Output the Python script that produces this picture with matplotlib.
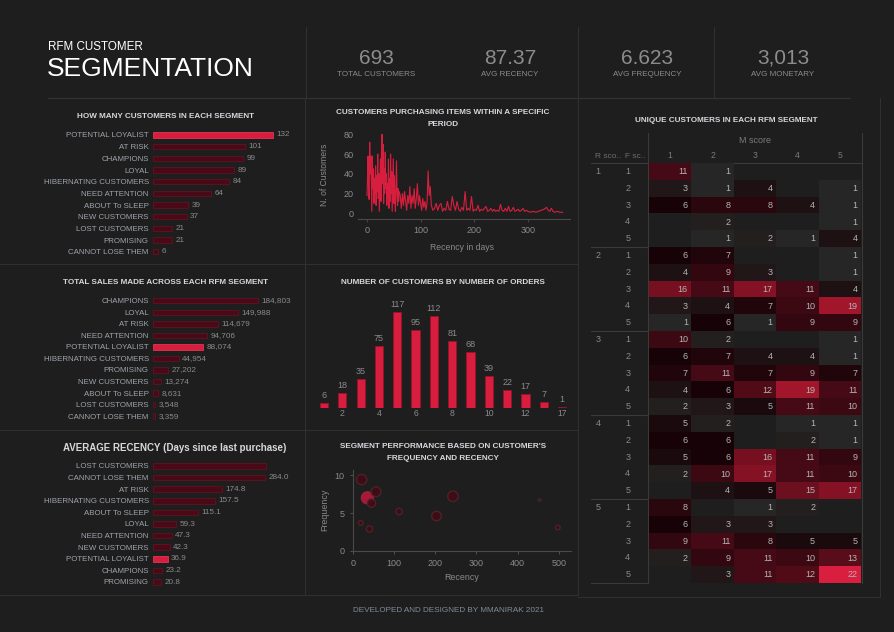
import matplotlib
matplotlib.use('Agg')
import matplotlib.pyplot as plt
import numpy as np
from matplotlib.colors import LinearSegmentedColormap, Normalize

plt.rcParams['font.family'] = ['Liberation Sans', 'DejaVu Sans']

# ---------------- DATA ----------------
kpi_values = ['693', '87.37', '6.623', '3,013']
kpi_labels = ['TOTAL CUSTOMERS', 'AVG RECENCY', 'AVG FREQUENCY', 'AVG MONETARY']

count_segments = ['POTENTIAL LOYALIST', 'AT RISK', 'CHAMPIONS', 'LOYAL', 'HIBERNATING CUSTOMERS',
                  'NEED ATTENTION', 'ABOUT To SLEEP', 'NEW CUSTOMERS', 'LOST CUSTOMERS',
                  'PROMISING', 'CANNOT LOSE THEM']
count_values = [132, 101, 99, 89, 84, 64, 39, 37, 21, 21, 6]

sales_segments = ['CHAMPIONS', 'LOYAL', 'AT RISK', 'NEED ATTENTION', 'POTENTIAL LOYALIST',
                  'HIBERNATING CUSTOMERS', 'PROMISING', 'NEW CUSTOMERS', 'ABOUT To SLEEP',
                  'LOST CUSTOMERS', 'CANNOT LOSE THEM']
sales_values = [184803, 149988, 114679, 94706, 88074, 44954, 27202, 13274, 8631, 3548, 3359]

recency_segments = ['LOST CUSTOMERS', 'CANNOT LOSE THEM', 'AT RISK', 'HIBERNATING CUSTOMERS',
                    'ABOUT To SLEEP', 'LOYAL', 'NEED ATTENTION', 'NEW CUSTOMERS',
                    'POTENTIAL LOYALIST', 'CHAMPIONS', 'PROMISING']
recency_values = [286.5, 284.0, 174.8, 157.5, 115.1, 59.3, 47.3, 42.3, 36.9, 23.2, 20.8]

highlight_segment = 'POTENTIAL LOYALIST'

recency_days = [0, 1, 2, 3, 4, 5, 6, 7, 8, 9, 10, 11, 12, 13, 14, 15, 16, 17, 18, 19, 20,
                21, 22, 23, 24, 25, 26, 27, 28, 29, 30, 31, 32, 33, 34, 35, 36, 37, 38, 39, 40,
                41, 42, 43, 44, 45, 46, 47, 48, 49, 50, 51, 52, 53, 54, 55, 56, 57, 58, 59, 60,
                62, 64, 66, 68, 70, 72, 74, 76, 78, 80, 82, 84, 86, 88, 90, 92, 94, 96, 98, 100,
                102, 104, 106, 108, 110, 112, 114, 116, 118, 120, 123, 126, 129, 132, 135, 138,
                141, 144, 147, 150, 153, 156, 159, 162, 165, 168, 171, 174, 177, 180, 183, 186,
                189, 192, 195, 198, 201, 204, 207, 210, 213, 216, 219, 222, 225, 228, 231, 234,
                237, 240, 243, 246, 249, 252, 255, 258, 261, 264, 267, 270, 273, 276, 279, 282,
                285, 288, 291, 294, 297, 300, 305, 310, 315, 320, 325, 330, 335, 338, 341, 344,
                347, 350, 355, 360, 365]
recency_customers = [18, 35, 58, 20, 14, 72, 40, 58, 30, 2, 58, 25, 45, 10, 35, 20, 48, 8, 38, 22, 60,
                     15, 40, 2, 30, 55, 12, 62, 80, 30, 70, 10, 45, 20, 62, 25, 40, 8, 30, 15, 55,
                     5, 35, 12, 60, 20, 42, 2, 28, 55, 10, 38, 15, 2, 30, 53, 20, 8, 25, 12, 22,
                     18, 5, 20, 8, 22, 12, 3, 18, 10, 27, 5, 18, 10, 25, 5, 15, 30, 8, 18, 10,
                     3, 15, 6, 12, 3, 10, 43, 18, 27, 8, 3, 5, 10, 3, 8, 10,
                     2, 5, 3, 12, 4, 3, 17, 8, 3, 12, 4, 2, 6, 3, 22, 3,
                     5, 3, 17, 2, 4, 3, 8, 2, 4, 3, 5, 7, 2, 3, 5, 2,
                     4, 2, 3, 2, 9, 3, 2, 5, 2, 7, 2, 3, 6, 2, 3, 4,
                     2, 3, 5, 2, 3, 2, 1, 2, 1, 2, 3, 4, 6, 3, 2, 5,
                     2, 1, 2, 1, 1]

order_labels = ['1', '2', '3', '4', '5', '6', '7', '8', '9', '10', '11', '12', '13', '17']
order_customers = [6, 18, 35, 75, 117, 95, 112, 81, 68, 39, 22, 17, 7, 1]
order_tick_labels = ['2', '4', '6', '8', '10', '12', '17']

scatter_segments = ['CHAMPIONS', 'POTENTIAL LOYALIST', 'NEED ATTENTION', 'LOYAL', 'PROMISING',
                    'NEW CUSTOMERS', 'ABOUT To SLEEP', 'HIBERNATING CUSTOMERS', 'AT RISK',
                    'CANNOT LOSE THEM', 'LOST CUSTOMERS']
scatter_recency = [21, 35, 45, 56, 19, 40, 112, 203, 243, 454, 498]
scatter_frequency = [9.4, 7.0, 6.3, 7.8, 3.7, 2.9, 5.2, 4.6, 7.2, 6.7, 3.1]
scatter_count = [99, 132, 64, 89, 21, 37, 39, 84, 101, 6, 21]

r_scores = [1, 2, 3, 4, 5]
f_scores = [1, 2, 3, 4, 5]
m_scores = [1, 2, 3, 4, 5]
N = None
heat_values = [
    [11, 1, N, N, N], [3, 1, 4, N, 1], [6, 8, 8, 4, 1], [N, 2, N, N, 1], [N, 1, 2, 1, 4],
    [6, 7, N, N, 1], [4, 9, 3, N, 1], [16, 11, 17, 11, 4], [3, 4, 7, 10, 19], [1, 6, 1, 9, 9],
    [10, 2, N, N, 1], [6, 7, 4, 4, 1], [7, 11, 7, 9, 7], [4, 6, 12, 19, 11], [2, 3, 5, 11, 10],
    [5, 2, N, 1, 1], [6, 6, N, 2, 1], [5, 6, 16, 11, 9], [2, 10, 17, 11, 10], [N, 4, 5, 15, 17],
    [8, N, 1, 2, N], [6, 3, 3, N, N], [9, 11, 8, 5, 5], [2, 9, 11, 10, 13], [N, 3, 11, 12, 22],
]

# ---------------- STYLE ----------------
W, H = 895, 632
BG = '#1e1e1e'
LINE = '#303030'
TITLE = '#d6d8dc'
LABEL = '#9ea4ab'
VAL = '#8a8a8a'
DARKBAR = '#4a0916'
DARKEDGE = '#5e1422'
RED = '#d81e3e'
REDEDGE = '#e23452'

fig = plt.figure(figsize=(W / 100, H / 100), dpi=100, facecolor=BG)
ov = fig.add_axes([0, 0, 1, 1])
ov.set_xlim(0, W)
ov.set_ylim(H, 0)
ov.axis('off')


def px_axes(x0, y0, x1, y1):
    ax = fig.add_axes([x0 / W, 1 - y1 / H, (x1 - x0) / W, (y1 - y0) / H])
    ax.set_facecolor('none')
    return ax


def hline(y, x0, x1, c=LINE):
    ov.plot([x0, x1], [y, y], color=c, lw=0.8)


def vline(x, y0, y1, c=LINE):
    ov.plot([x, x], [y0, y1], color=c, lw=0.8)


# ---------------- HEADER ----------------
ov.text(48, 47, 'RFM CUSTOMER', color='white', fontsize=8.4, ha='left', va='center')
ov.text(47, 69, 'SEGMENTATION', color='white', fontsize=19, ha='left', va='center')
vline(306, 27, 98)
vline(578, 27, 98)
vline(714, 27, 98)
hline(98, 48, 850, '#333333')
kpi_x = [376, 510, 647, 783]
for x, v, l in zip(kpi_x, kpi_values, kpi_labels):
    ov.text(x, 58, v, color='#8c8c8c', fontsize=15, ha='center', va='center')
    ov.text(x, 75, l, color='#8c8c8c', fontsize=5.8, ha='center', va='center')

# panel borders
hline(264, 0, 578)
hline(430, 0, 578)
hline(595, 0, 578)
vline(305, 98, 595)
vline(578, 98, 595)
vline(880, 98, 597)
hline(597, 578, 880)

# footer
ov.text(449, 611, 'DEVELOPED AND DESIGNED BY MMANIRAK 2021', color='#7f8b98', fontsize=5.9,
        ha='center', va='center')


# ---------------- HORIZONTAL BAR PANELS ----------------
def hbar_panel(labels, values, y_first, spacing, x0, px_per_unit, fmt, hide=()):
    n = len(values)
    top = y_first - spacing / 2
    bottom = y_first + spacing * (n - 0.5)
    x1 = 300
    ax = px_axes(x0, top, x1, bottom)
    ax.set_xlim(0, (x1 - x0) / px_per_unit)
    ax.set_ylim(n - 0.5, -0.5)
    colors = [RED if l == highlight_segment else DARKBAR for l in labels]
    edges = [REDEDGE if l == highlight_segment else DARKEDGE for l in labels]
    ax.barh(range(n), values, height=0.47, color=colors, edgecolor=edges, linewidth=0.6)
    ax.set_yticks(range(n))
    ax.set_yticklabels(labels, fontsize=5.7, color=LABEL)
    ax.tick_params(axis='y', length=0, pad=3)
    ax.set_xticks([])
    for s in ax.spines.values():
        s.set_visible(False)
    for i, v in enumerate(values):
        if i in hide:
            continue
        ax.text(v + 3.5 / px_per_unit, i, fmt(v), fontsize=5.9, color=VAL, va='center', ha='left')
    return ax


ov.text(166, 117, 'HOW MANY CUSTOMERS IN EACH SEGMENT', color=TITLE, fontsize=5.9,
        fontweight='bold', ha='center', va='center')
hbar_panel(count_segments, count_values, 135, 11.67, 153, 120 / 132, lambda v: f'{v:d}')

ov.text(166, 283, 'TOTAL SALES MADE ACROSS EACH RFM SEGMENT', color=TITLE, fontsize=5.9,
        fontweight='bold', ha='center', va='center')
hbar_panel(sales_segments, sales_values, 300.7, 11.55, 153, 105 / 184803, lambda v: f'{v:,d}')

ov.text(63, 448, 'AVERAGE RECENCY (Days since last purchase)', color=TITLE, fontsize=7,
        fontweight='bold', ha='left', va='center')
hbar_panel(recency_segments, recency_values, 466, 11.6, 153, 112 / 284.0, lambda v: f'{v:.1f}',
           hide=(0,))

# ---------------- LINE CHART ----------------
ov.text(443, 113, 'CUSTOMERS PURCHASING ITEMS WITHIN A SPECIFIC', color=TITLE, fontsize=5.9,
        fontweight='bold', ha='center', va='center')
ov.text(443, 124, 'PERIOD', color=TITLE, fontsize=5.9, fontweight='bold', ha='center', va='center')
axl = px_axes(358, 128, 570, 219.3)
axl.plot(recency_days, recency_customers, color=RED, lw=0.8)
axl.set_xlim(-16.8, 378.7)
axl.set_ylim(-6.1, 86.4)
axl.set_xticks([0, 100, 200, 300])
axl.set_yticks([0, 20, 40, 60, 80])
axl.tick_params(colors='#444444', labelcolor=VAL, labelsize=6.5, length=0)
axl.tick_params(axis='x', length=2, pad=3)
axl.tick_params(axis='y', pad=3)
for k, s in axl.spines.items():
    s.set_visible(k == 'bottom')
    s.set_color('#4a4a4a')
ov.text(325, 175, 'N. of Customers', color=VAL, fontsize=6.2, rotation=90, ha='center', va='center')
ov.text(462, 247, 'Recency in days', color=VAL, fontsize=6.2, ha='center', va='center')

# ---------------- ORDERS BAR CHART ----------------
ov.text(443, 282, 'NUMBER OF CUSTOMERS BY NUMBER OF ORDERS', color=TITLE, fontsize=5.9,
        fontweight='bold', ha='center', va='center')
axb = px_axes(311, 297, 575, 408)
xi = np.arange(len(order_customers))
axb.bar(xi, order_customers, width=0.45, color=RED, edgecolor='#9e1229', linewidth=0.6)
axb.set_xlim(-0.71, 13.7)
axb.set_ylim(0, 135)
for i, v in zip(xi, order_customers):
    axb.text(i, v + 3 / 0.82, str(v), ha='center', va='bottom', fontsize=6.5, color=VAL)
tick_idx = [order_labels.index(t) for t in order_tick_labels]
axb.set_xticks(tick_idx)
axb.set_xticklabels(order_tick_labels)
axb.set_yticks([])
axb.tick_params(axis='x', length=0, labelsize=6.2, labelcolor=VAL, pad=1)
for s in axb.spines.values():
    s.set_visible(False)

# ---------------- SCATTER ----------------
ov.text(443, 446, "SEGMENT PERFORMANCE BASED ON CUSTOMER'S", color=TITLE, fontsize=5.9,
        fontweight='bold', ha='center', va='center')
ov.text(443, 458, 'FREQUENCY AND RECENCY', color=TITLE, fontsize=5.9, fontweight='bold',
        ha='center', va='center')
axs = px_axes(353, 470, 571, 551)
sc_colors = ['#b8183a' if s == highlight_segment else '#420a14' for s in scatter_segments]
sc_edges = ['#a0243a' if s == highlight_segment else '#4e242a' for s in scatter_segments]
sizes = [0.52 ** 2 * c * (0.72 * 2) ** 2 for c in scatter_count]
axs.scatter(scatter_recency, scatter_frequency, s=sizes, c=sc_colors, edgecolors=sc_edges,
            linewidths=1.0, alpha=0.9, zorder=3)
axs.set_xlim(0, 530)
axs.set_ylim(0, 10.66)
axs.set_xticks([0, 100, 200, 300, 400, 500])
axs.set_yticks([0, 5, 10])
axs.tick_params(colors='#5a5a5a', labelcolor=VAL, labelsize=6.5, length=2.5, width=0.6)
for k, s in axs.spines.items():
    s.set_visible(k in ('left', 'bottom'))
    s.set_color('#4a4a4a')
ov.text(325, 510, 'Frequency', color=VAL, fontsize=6.4, rotation=90, ha='center', va='center')
ov.text(462, 578, 'Recency', color=VAL, fontsize=6.4, ha='center', va='center')

# ---------------- HEATMAP ----------------
ov.text(726, 121, 'UNIQUE CUSTOMERS IN EACH RFM SEGMENT', color=TITLE, fontsize=5.9,
        fontweight='bold', ha='center', va='center')
cm_vals = [1, 3, 6, 10, 16, 19, 22]
cm_cols = ['#262626', '#211718', '#170307', '#3c0913', '#761020', '#a0162a', '#d91e3f']
cmap = LinearSegmentedColormap.from_list(
    'rfm', [((v - 1) / 21, c) for v, c in zip(cm_vals, cm_cols)])
hm = np.array([[np.nan if v is None else v for v in row] for row in heat_values], dtype=float)
axh = px_axes(649, 163, 861, 583)
axh.pcolormesh(np.arange(6), np.arange(26), np.ma.masked_invalid(hm), cmap=cmap,
               norm=Normalize(1, 22))
axh.set_xlim(0, 5)
axh.set_ylim(25, 0)
axh.axis('off')
cell_w = 212 / 5
for r in range(25):
    for c in range(5):
        if not np.isnan(hm[r, c]):
            axh.text(c + 1 - 3.5 / cell_w, r + 0.52, f'{int(hm[r, c])}', ha='right', va='center',
                     fontsize=6.5, color='#b4b4b4')
for c, m in enumerate(m_scores):
    axh.text(c + 0.5, -0.45, str(m), ha='center', va='center', fontsize=6.2, color='#7a7a7a')
axh.text(2.5, -1.35, 'M score', ha='center', va='center', fontsize=6.5, color='#7a7a7a')
for i, rs in enumerate(r_scores):
    axh.text(-1.2, i * 5 + 0.5, str(rs), ha='center', va='center', fontsize=6.5, color='#8a8a8a')
    for j, fs in enumerate(f_scores):
        axh.text(-0.5, i * 5 + j + 0.5, str(fs), ha='center', va='center', fontsize=6.5,
                 color='#8a8a8a')
ov.text(595, 156, 'R sco..', ha='left', va='center', fontsize=6, color='#6e6e6e')
ov.text(625, 156, 'F sc..', ha='left', va='center', fontsize=6, color='#6e6e6e')

vline(648, 133, 583, '#3a3a3a')
vline(862, 133, 583, '#3a3a3a')
hline(163, 591, 862, '#3a3a3a')
for k in range(1, 6):
    hline(163 + k * 5 * 16.8, 591, 648, '#3a3a3a')

fig.savefig('out.png', dpi=100, facecolor=BG)
